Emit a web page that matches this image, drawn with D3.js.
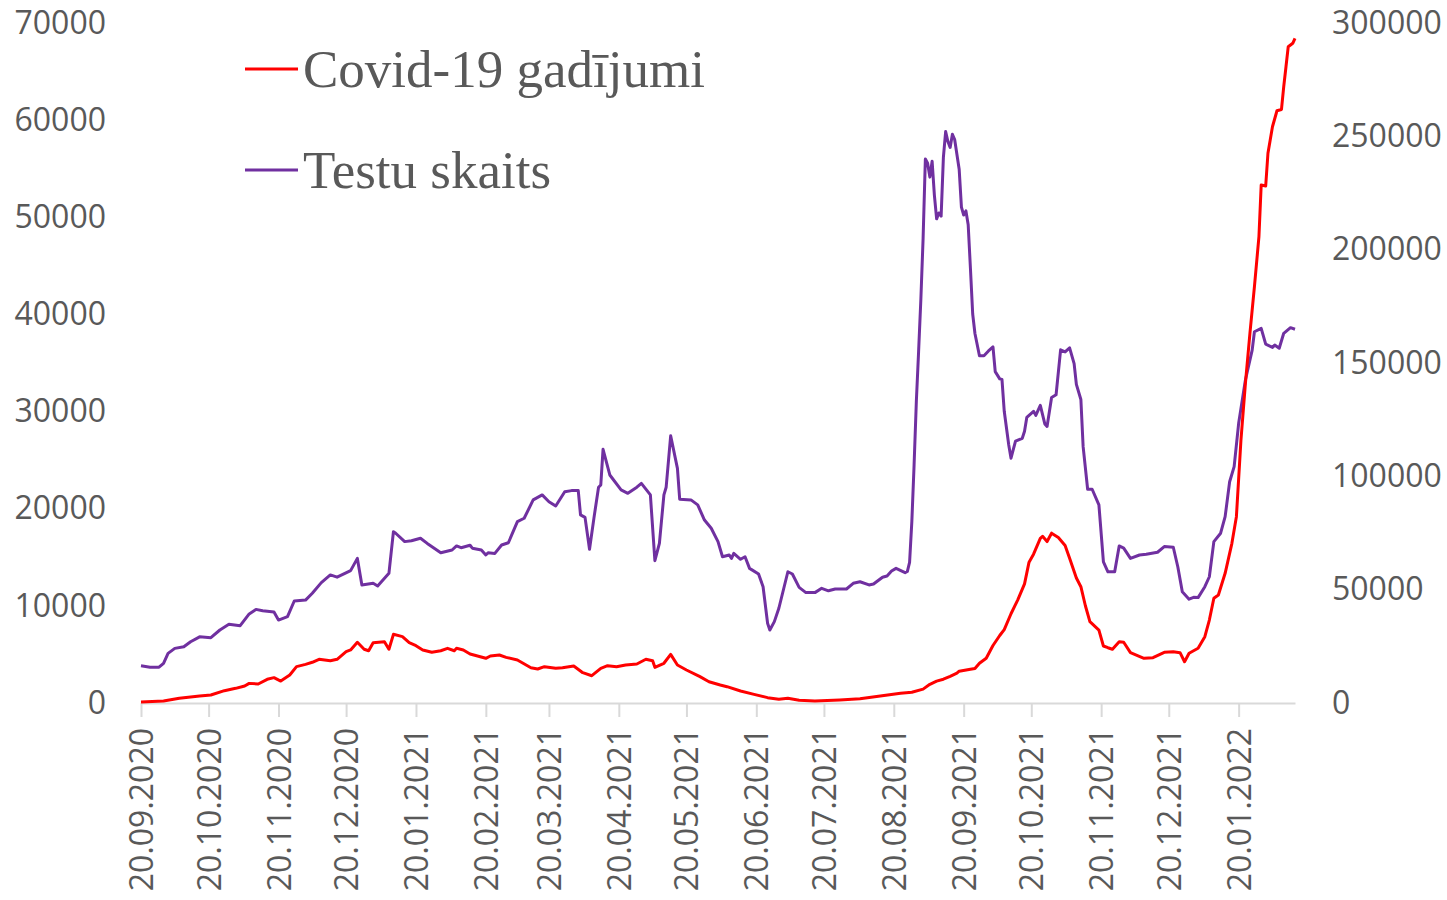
<!DOCTYPE html>
<html><head><meta charset="utf-8">
<script src="https://cdn.jsdelivr.net/npm/d3@7"></script>
<style>body{margin:0;background:#fff}</style></head>
<body><svg id="c" width="1447" height="900"></svg>
<script>
const seriesNames = ["Covid-19 gadījumi", "Testu skaits"];
const seriesColors = ["#ff0000", "#7030a0"];

const tickLabels = ["2020-09-20","2020-10-20","2020-11-20","2020-12-20","2021-01-20","2021-02-20","2021-03-20","2021-04-20","2021-05-20","2021-06-20","2021-07-20","2021-08-20","2021-09-20","2021-10-20","2021-11-20","2021-12-20","2022-01-20"];
const leftTicks = [0,10000,20000,30000,40000,50000,60000,70000];
const rightTicks = [0,50000,100000,150000,200000,250000,300000];

const caseDates = ["2020-09-20","2020-09-30","2020-10-07","2020-10-16","2020-10-21","2020-10-27","2020-11-01","2020-11-05","2020-11-07","2020-11-11","2020-11-15","2020-11-18","2020-11-21","2020-11-25","2020-11-28","2020-12-02","2020-12-05","2020-12-08","2020-12-13","2020-12-16","2020-12-20","2020-12-22","2020-12-25","2020-12-28","2020-12-30","2021-01-01","2021-01-06","2021-01-08","2021-01-10","2021-01-14","2021-01-17","2021-01-20","2021-01-23","2021-01-27","2021-01-31","2021-02-03","2021-02-06","2021-02-07","2021-02-10","2021-02-13","2021-02-20","2021-02-22","2021-02-26","2021-03-01","2021-03-06","2021-03-12","2021-03-15","2021-03-18","2021-03-23","2021-03-26","2021-03-31","2021-04-04","2021-04-08","2021-04-12","2021-04-15","2021-04-19","2021-04-23","2021-04-28","2021-05-02","2021-05-05","2021-05-06","2021-05-10","2021-05-13","2021-05-16","2021-05-20","2021-05-26","2021-05-30","2021-06-04","2021-06-07","2021-06-13","2021-06-19","2021-06-25","2021-06-30","2021-07-04","2021-07-09","2021-07-16","2021-07-27","2021-08-05","2021-08-14","2021-08-23","2021-08-28","2021-09-02","2021-09-05","2021-09-08","2021-09-11","2021-09-14","2021-09-17","2021-09-18","2021-09-23","2021-09-25","2021-09-27","2021-09-30","2021-10-03","2021-10-06","2021-10-08","2021-10-11","2021-10-14","2021-10-17","2021-10-19","2021-10-21","2021-10-24","2021-10-25","2021-10-27","2021-10-29","2021-11-01","2021-11-04","2021-11-06","2021-11-09","2021-11-11","2021-11-13","2021-11-15","2021-11-19","2021-11-21","2021-11-23","2021-11-25","2021-11-28","2021-11-30","2021-12-03","2021-12-09","2021-12-13","2021-12-18","2021-12-22","2021-12-25","2021-12-27","2021-12-29","2022-01-02","2022-01-05","2022-01-07","2022-01-09","2022-01-11","2022-01-14","2022-01-17","2022-01-19","2022-01-21","2022-01-23","2022-01-25","2022-01-27","2022-01-29","2022-01-30","2022-02-01","2022-02-02","2022-02-03","2022-02-04","2022-02-06","2022-02-08","2022-02-09","2022-02-10","2022-02-11","2022-02-13","2022-02-14"];
const caseValues = [100,200,480,720,820,1270,1510,1750,2020,1960,2440,2610,2260,2880,3740,3980,4190,4500,4350,4500,5280,5460,6250,5530,5380,6210,6310,5530,7070,6830,6210,5900,5460,5220,5380,5630,5380,5630,5460,5040,4600,4840,4940,4700,4430,3630,3500,3740,3570,3630,3810,3120,2810,3570,3840,3740,3910,4010,4500,4350,3670,4090,5010,3910,3400,2710,2190,1850,1680,1240,890,550,380,480,280,200,310,440,720,1000,1100,1430,1920,2250,2450,2740,3070,3270,3470,3550,4090,4610,5920,6950,7560,9190,10620,12260,14500,15320,16950,17160,16620,17480,17040,16210,14900,12870,11970,10010,8370,7510,5870,5690,5530,6310,6250,5180,4600,4670,5220,5280,5180,4250,5120,5630,6830,8540,10780,11120,13350,16440,19180,27000,32900,38060,42860,48000,53320,53220,56590,57960,59320,60970,61100,63440,65500,67560,67910,68420];

const testDates = ["2020-09-20","2020-09-24","2020-09-28","2020-09-30","2020-10-02","2020-10-05","2020-10-09","2020-10-12","2020-10-16","2020-10-21","2020-10-25","2020-10-29","2020-11-03","2020-11-07","2020-11-10","2020-11-13","2020-11-18","2020-11-20","2020-11-24","2020-11-27","2020-12-02","2020-12-05","2020-12-09","2020-12-13","2020-12-16","2020-12-22","2020-12-25","2020-12-27","2021-01-01","2021-01-03","2021-01-08","2021-01-10","2021-01-11","2021-01-15","2021-01-18","2021-01-22","2021-01-25","2021-01-31","2021-02-05","2021-02-07","2021-02-09","2021-02-13","2021-02-14","2021-02-18","2021-02-20","2021-02-21","2021-02-24","2021-02-27","2021-03-02","2021-03-06","2021-03-09","2021-03-13","2021-03-17","2021-03-20","2021-03-23","2021-03-27","2021-03-30","2021-04-02","2021-04-03","2021-04-05","2021-04-07","2021-04-09","2021-04-11","2021-04-12","2021-04-13","2021-04-16","2021-04-21","2021-04-24","2021-04-28","2021-04-30","2021-05-04","2021-05-06","2021-05-08","2021-05-10","2021-05-11","2021-05-13","2021-05-16","2021-05-17","2021-05-22","2021-05-25","2021-05-28","2021-05-31","2021-06-03","2021-06-05","2021-06-08","2021-06-09","2021-06-10","2021-06-13","2021-06-15","2021-06-17","2021-06-21","2021-06-23","2021-06-25","2021-06-26","2021-06-28","2021-06-30","2021-07-04","2021-07-06","2021-07-09","2021-07-12","2021-07-16","2021-07-19","2021-07-22","2021-07-25","2021-07-30","2021-08-02","2021-08-05","2021-08-09","2021-08-11","2021-08-15","2021-08-17","2021-08-19","2021-08-21","2021-08-25","2021-08-26","2021-08-27","2021-08-28","2021-08-29","2021-08-30","2021-08-31","2021-09-01","2021-09-02","2021-09-03","2021-09-04","2021-09-05","2021-09-06","2021-09-07","2021-09-08","2021-09-09","2021-09-10","2021-09-11","2021-09-12","2021-09-13","2021-09-14","2021-09-15","2021-09-16","2021-09-18","2021-09-19","2021-09-20","2021-09-21","2021-09-22","2021-09-23","2021-09-24","2021-09-25","2021-09-27","2021-09-29","2021-10-01","2021-10-03","2021-10-04","2021-10-06","2021-10-07","2021-10-08","2021-10-10","2021-10-11","2021-10-13","2021-10-16","2021-10-17","2021-10-18","2021-10-21","2021-10-22","2021-10-24","2021-10-26","2021-10-27","2021-10-29","2021-10-31","2021-11-02","2021-11-04","2021-11-06","2021-11-08","2021-11-09","2021-11-11","2021-11-12","2021-11-14","2021-11-16","2021-11-19","2021-11-21","2021-11-23","2021-11-26","2021-11-28","2021-11-30","2021-12-03","2021-12-07","2021-12-10","2021-12-15","2021-12-18","2021-12-22","2021-12-24","2021-12-26","2021-12-29","2021-12-31","2022-01-02","2022-01-05","2022-01-07","2022-01-09","2022-01-12","2022-01-14","2022-01-16","2022-01-18","2022-01-20","2022-01-23","2022-01-26","2022-01-27","2022-01-30","2022-02-01","2022-02-04","2022-02-05","2022-02-07","2022-02-09","2022-02-12","2022-02-14"];
const testValues = [16400,15800,15800,17500,21900,24100,24800,27000,29200,28800,32200,34700,34100,39300,41300,40700,40100,36600,38100,45000,45400,48400,53100,56500,55500,58400,63800,52100,52800,51600,57200,75600,74900,71200,71600,72700,70400,66300,67500,69300,68500,69600,68300,67500,65300,66300,66000,69700,70700,80000,81500,89600,91800,88800,86900,93200,93700,93700,83000,81900,67800,81900,95200,96200,111900,100600,94000,92500,95200,96900,91800,62800,70400,91800,95200,117900,103500,89900,89600,87400,80700,77100,71200,64500,65300,63800,66000,63400,64500,59400,56900,51300,35200,32200,35900,41800,57900,56900,51000,48700,48700,50600,49500,50300,50300,52800,53500,52100,52500,55500,56000,58200,59400,57500,58000,62000,80000,105000,133000,155000,178000,205000,240000,238100,232000,239000,224100,213600,216200,214800,240700,252100,247700,245100,250900,248600,235500,218800,215300,217100,211000,191700,171600,163000,153200,153200,155300,157100,146200,143000,142700,128700,113800,108000,115500,116800,119900,126000,128700,126900,131300,123100,122000,134800,136000,155800,154900,156700,149700,140600,133900,113100,94300,94300,87400,62300,57900,57900,69300,68300,63800,65300,65600,66500,69000,68700,60100,49100,45800,46600,46500,51300,55700,71200,74900,82200,97600,104300,123400,142500,155700,163800,165300,158300,156900,157900,156500,163100,165600,164900];

const parse = d3.timeParse("%Y-%m-%d");
const fmt = d3.timeFormat("%d.%m.%Y");
const svg = d3.select("#c");

const x = d3.scaleTime().domain([parse("2020-09-20"), parse("2022-02-14")]).range([141, 1295]);
const yL = d3.scaleLinear().domain([0, 70000]).range([703, 23]);
const yR = d3.scaleLinear().domain([0, 300000]).range([703, 23]);

const tickFont = "'Open Sans', 'Noto Sans', sans-serif";

// x axis
const gx = svg.append("g").attr("transform", "translate(0,703)")
  .call(d3.axisBottom(x).tickValues(tickLabels.map(parse)).tickFormat(fmt).tickSize(14).tickSizeOuter(0));
gx.select(".domain").attr("stroke", "#d9d9d9").attr("stroke-width", 2);
gx.selectAll(".tick line").attr("stroke", "#d9d9d9").attr("stroke-width", 2);
gx.selectAll(".tick text")
  .attr("transform", "rotate(-90)")
  .attr("x", -25).attr("y", 0).attr("dy", "0.36em")
  .style("text-anchor", "end")
  .style("font-family", tickFont).style("font-size", "32px").attr("fill", "#595959");

// left axis
const gl = svg.append("g").attr("transform", "translate(141,0)")
  .call(d3.axisLeft(yL).tickValues(leftTicks).tickFormat(d3.format("d")).tickSize(0).tickPadding(35));
gl.select(".domain").remove();
gl.selectAll(".tick text").style("font-family", tickFont).style("font-size", "32px").attr("fill", "#595959");

// right axis
const gr = svg.append("g").attr("transform", "translate(1297,0)")
  .call(d3.axisRight(yR).tickValues(rightTicks).tickFormat(d3.format("d")).tickSize(0).tickPadding(35));
gr.select(".domain").remove();
gr.selectAll(".tick text").style("font-family", tickFont).style("font-size", "32px").attr("fill", "#595959");

// lines
const testData = testDates.map((d, i) => ({date: parse(d), value: testValues[i]}));
const caseData = caseDates.map((d, i) => ({date: parse(d), value: caseValues[i]}));

svg.append("path").datum(testData)
  .attr("fill", "none").attr("stroke", seriesColors[1]).attr("stroke-width", 3).attr("stroke-linejoin", "round")
  .attr("d", d3.line().x(d => x(d.date)).y(d => yR(d.value)));
svg.append("path").datum(caseData)
  .attr("fill", "none").attr("stroke", seriesColors[0]).attr("stroke-width", 3).attr("stroke-linejoin", "round")
  .attr("d", d3.line().x(d => x(d.date)).y(d => yL(d.value)));

// legend
const legY = [69, 170];
seriesNames.forEach((name, i) => {
  svg.append("line").attr("x1", 245).attr("x2", 298).attr("y1", legY[i]).attr("y2", legY[i])
    .attr("stroke", seriesColors[i]).attr("stroke-width", 3);
  svg.append("text").attr("x", 303).attr("y", legY[i] + 18).text(name)
    .style("font-family", "'Liberation Serif', 'Times New Roman', serif").style("font-size", "53px").attr("fill", "#595959");
});
</script></body></html>
